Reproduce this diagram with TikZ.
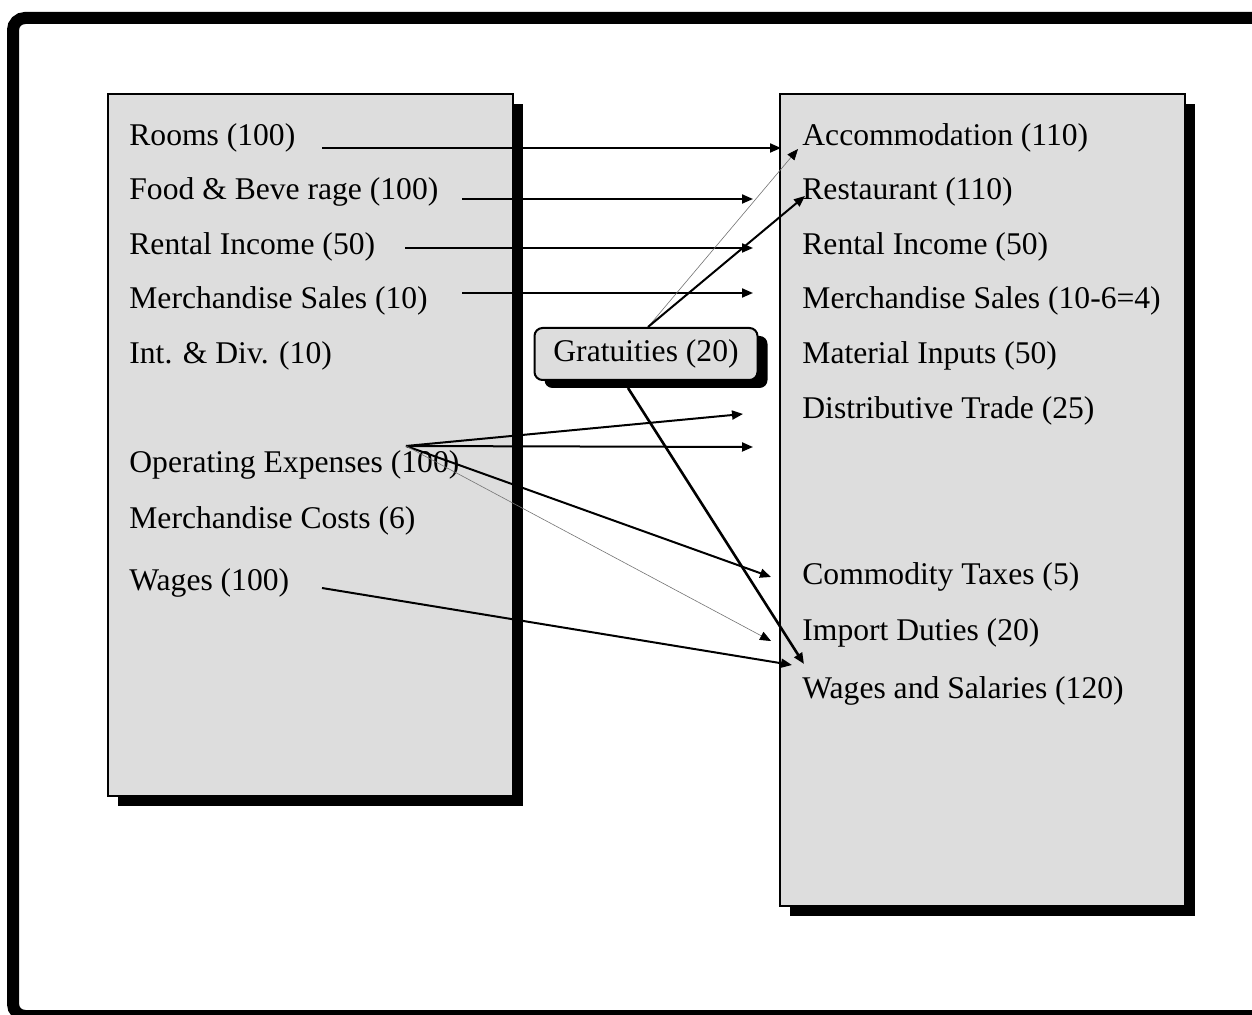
\documentclass[tikz,border=0pt]{standalone}
\usepackage{fontspec}
\setmainfont{Liberation Serif}
\usetikzlibrary{arrows.meta,shadows}
\definecolor{panelgray}{HTML}{DDDDDD}

\begin{document}
\begin{tikzpicture}[x=0.5pt,y=-0.5pt,
    item/.style={anchor=base west,inner sep=0pt,font=\fontsize{15.8pt}{18pt}\selectfont},
    flow/.style={line width=1pt,-{Triangle[length=5.5pt,width=4.5pt]}},
    faint/.style={line width=0.3pt,draw=black!55,-{Triangle[length=5.5pt,width=4.5pt,black]}},
    gratbox/.style={draw,line width=1pt,fill=panelgray,rounded corners=4pt,
      minimum width=111.5pt,minimum height=26pt,inner sep=0pt,
      font=\fontsize{15.8pt}{18pt}\selectfont,
      drop shadow={shadow xshift=5pt,shadow yshift=-4pt,fill=black,opacity=1}}]
      \useasboundingbox (0,0) rectangle (1252,1015);
      \clip (0,0) rectangle (1252,1015);
      % outer frame
      \draw[line width=6pt,rounded corners=6pt] (13,18) rectangle (1275,1016);
      % panels with shadows
      \fill[black] (118,104) rectangle (523,806);
      \draw[line width=1pt,fill=panelgray] (108,94) rectangle (513,796);
      \fill[black] (790,104) rectangle (1195,916);
      \draw[line width=1pt,fill=panelgray] (780,94) rectangle (1185,906);
      % left items
      \node[item] (rooms) at (129,146) {Rooms (100)};
      \node[item] (food) at (129,200) {Food \& Beve rage (100)};
      \node[item] (rent) at (129,255) {Rental Income (50)};
      \node[item] (merch) at (129,309) {Merchandise Sales (10)};
      \node[item] (intdiv) at (129,364) {Int. \& Div. (10)};
      \node[item] (opex) at (129,473) {Operating Expenses (100)};
      \node[item] (mcost) at (129,529) {Merchandise Costs (6)};
      \node[item] (wages) at (129,590) {Wages (100)};
      % right items
      \node[item] (accom) at (802,146) {Accommodation (110)};
      \node[item] (resto) at (802,200) {Restaurant (110)};
      \node[item] (rentio) at (802,255) {Rental Income (50)};
      \node[item] (merchio) at (802,309) {Merchandise Sales (10-6=4)};
      \node[item] (inputs) at (802,364) {Material Inputs (50)};
      \node[item] (trade) at (802,419) {Distributive Trade (25)};
      \node[item] (ctax) at (802,584) {Commodity Taxes (5)};
      \node[item] (duties) at (802,640) {Import Duties (20)};
      \node[item] (salaries) at (802,698) {Wages and Salaries (120)};
      % gratuities
      \node[gratbox] (grat) at (646,354) {Gratuities (20)};
      % arrow ends
      \coordinate (roomsout) at (322,148);
      \coordinate (roomsin) at (781,148);
      \coordinate (foodout) at (462,199);
      \coordinate (foodin) at (753,199);
      \coordinate (rentout) at (405,248);
      \coordinate (rentin) at (753,248);
      \coordinate (merchout) at (462,293);
      \coordinate (merchin) at (753,293);
      \coordinate (opexout) at (406,446);
      \coordinate (tradein) at (743,414);
      \coordinate (opexin) at (753,447);
      \coordinate (ctaxin) at (771,577);
      \coordinate (dutiesin) at (771,641);
      \coordinate (wagesout) at (322,588);
      \coordinate (wagesin) at (792,665);
      \coordinate (gratout) at (648,327);
      \coordinate (gratlow) at (628,388);
      \coordinate (accomin) at (798,149);
      \coordinate (restoin) at (805,196);
      \coordinate (salin) at (804,664);
      % connectors
      \draw[flow] (roomsout) -- (roomsin);
      \draw[flow] (foodout) -- (foodin);
      \draw[flow] (rentout) -- (rentin);
      \draw[flow] (merchout) -- (merchin);
      \draw[faint] (gratout) -- (accomin);
      \draw[flow] (gratout) -- (restoin);
      \draw[flow] (opexout) -- (tradein);
      \draw[flow] (opexout) -- (opexin);
      \draw[flow] (opexout) -- (ctaxin);
      \draw[faint] (opexout) -- (dutiesin);
      \draw[flow] (wagesout) -- (wagesin);
      \draw[flow,line width=1.3pt] (gratlow) -- (salin);
    \end{tikzpicture}
\end{document}
